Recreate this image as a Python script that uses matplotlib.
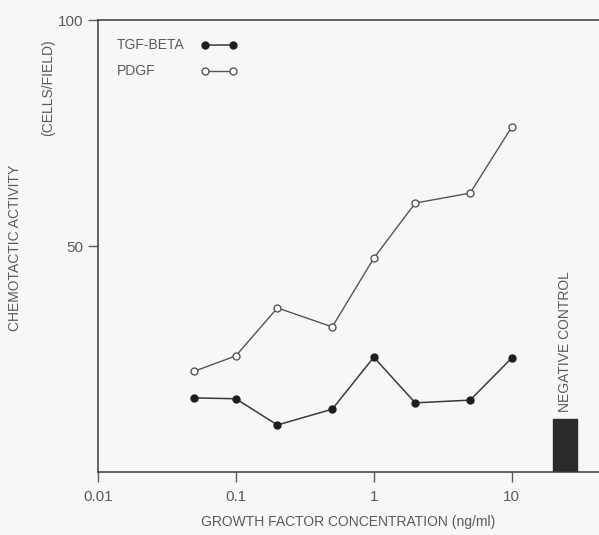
import numpy as np
import matplotlib
matplotlib.use("Agg")
import matplotlib.pyplot as plt

# values
conc = [0.05, 0.1, 0.2, 0.5, 1, 2, 5, 10]          # ng/ml
tgf_beta = [16.4, 16.2, 10.4, 13.9, 25.4, 15.3, 15.9, 25.2]
pdgf = [22.3, 25.7, 36.3, 32.1, 47.3, 59.5, 61.7, 76.3]
neg_control = 11.7
neg_label = "NEGATIVE CONTROL"
series_names = ["TGF-BETA", "PDGF"]

ink = "#3a3a3a"
txt = "#5a5a5a"
plt.rcParams['font.family'] = ['Liberation Sans Narrow', 'Liberation Sans', 'DejaVu Sans']

fig = plt.figure(figsize=(5.99, 5.35), dpi=100, facecolor="#f7f7f7")
ax = fig.add_axes([98/599, 1-472/535, 1-98/599, (472-20)/535])
ax.set_facecolor("#f7f7f7")

styles = [dict(color=ink, lw=1.1, marker="o", ms=5.0, mfc="#1e1e1e", mec="#1e1e1e"),
          dict(color="#555555", lw=1.0, marker="o", ms=5.0, mfc="white", mec="#555555", mew=1.0)]

for vals, st in zip([tgf_beta, pdgf], styles):
    ax.plot(conc, vals, **st)

# negative control bar, placed right of the 10 ng/ml tick
ax.bar(20.1, neg_control, width=9.5, align="edge", color="#2a2a2a", edgecolor="#2a2a2a")
ax.text(24.4, neg_control + 1.5, neg_label, rotation=90, ha="center", va="bottom",
        fontsize=10, color=txt)

# legend: text on the left, left aligned, key on the right
for i, (name, st) in enumerate(zip(series_names, styles)):
    yy = 0.945 - i * 0.057
    ax.text(0.038, yy, name, transform=ax.transAxes, ha="left", va="center",
            fontsize=10, color=txt)
    ax.plot([0.214, 0.270], [yy, yy], transform=ax.transAxes, clip_on=False, **st)

ax.set_xscale("log")
ax.set_xlim(0.01, 43)
ax.set_ylim(0, 100)
ax.set_xticks([0.01, 0.1, 1, 10])
ax.set_xticklabels(["0.01", "0.1", "1", "10"])
ax.xaxis.set_minor_locator(matplotlib.ticker.NullLocator())
ax.set_yticks([50, 100])
ax.set_yticklabels(["50", "100"])
ax.tick_params(axis="both", colors=txt, labelsize=11, length=7, width=1.0, direction="out")
ax.tick_params(axis="x", pad=6)

for s in ["left", "bottom", "top"]:
    ax.spines[s].set_color(ink)
    ax.spines[s].set_linewidth(1.1)
ax.spines["right"].set_visible(False)

ax.set_xlabel("GROWTH FACTOR CONCENTRATION (ng/ml)", fontsize=10, color=txt, labelpad=8)
fig.text(15/599, 1-248/535, "CHEMOTACTIC ACTIVITY", rotation=90, ha="center", va="center",
         fontsize=10, color=txt)
fig.text(48/599, 1-88/535, "(CELLS/FIELD)", rotation=90, ha="center", va="center",
         fontsize=10, color=txt)

fig.savefig("out.png", dpi=100, facecolor=fig.get_facecolor())
